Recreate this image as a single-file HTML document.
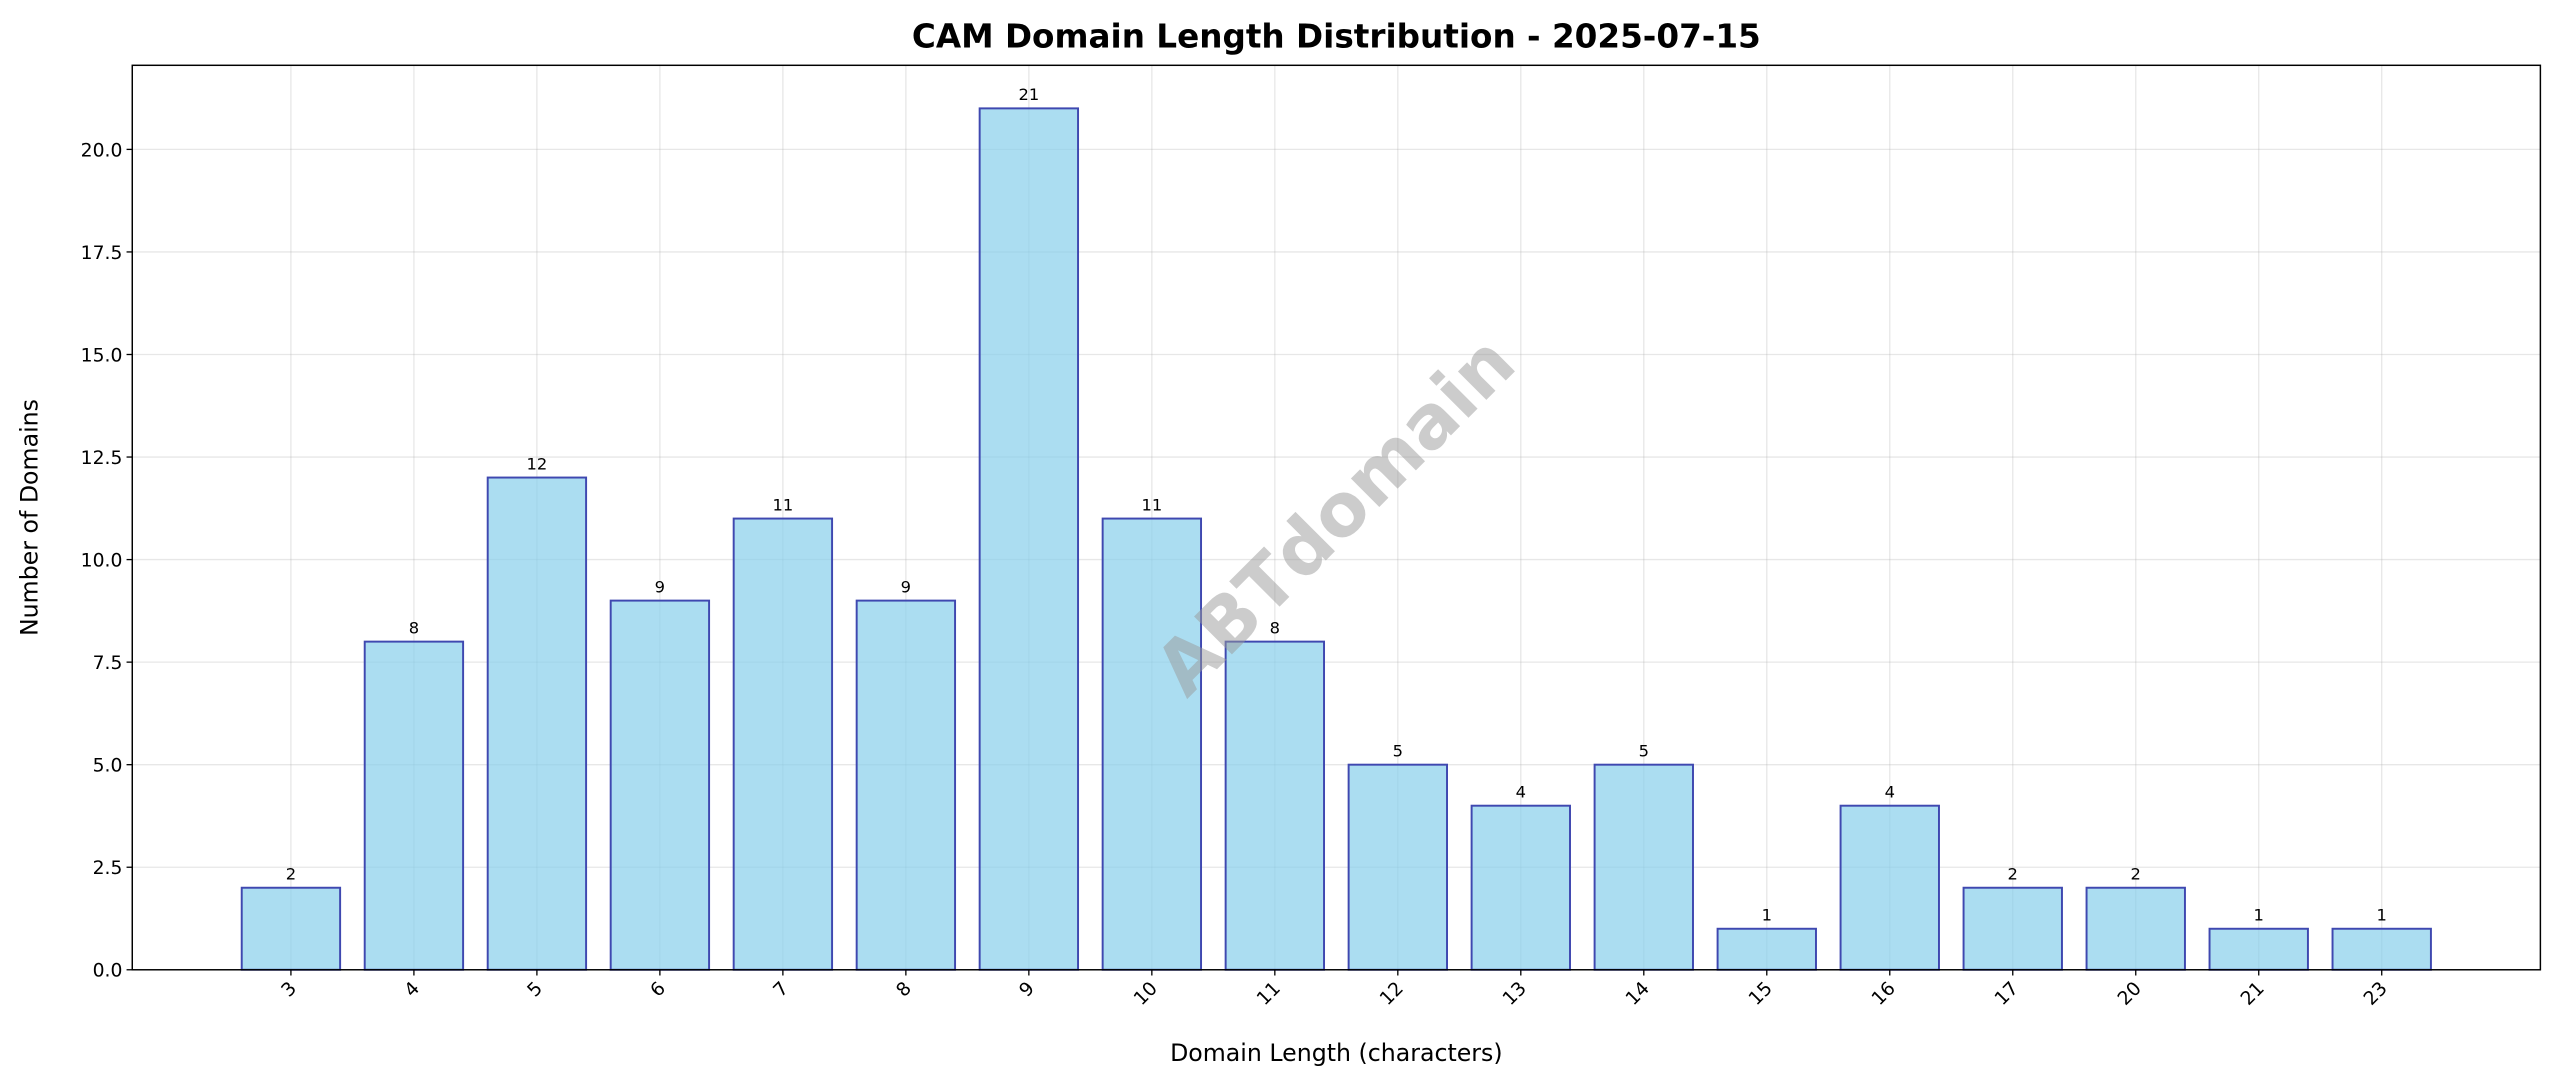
<!DOCTYPE html>
<html><head><meta charset="utf-8"><style>
html,body{margin:0;padding:0;background:#fff;}
svg{display:block;font-family:"DejaVu Sans","Liberation Sans",sans-serif;}
</style></head><body>
<svg id="chart" width="2560" height="1087" viewBox="0 0 1568 665.8" xmlns="http://www.w3.org/2000/svg">
<rect width="1568" height="666" fill="#fff"/>
<g id="grid"></g>
<g id="bars"></g>
<text x="820" y="318" font-size="45" font-weight="bold" fill="#999" fill-opacity="0.5" text-anchor="middle" dominant-baseline="middle" transform="rotate(-45 820 318)">ABTdomain</text>
<g id="axes"></g>
<text x="818.5" y="29" font-size="20" font-weight="bold" text-anchor="middle">CAM Domain Length Distribution - 2025-07-15</text>
<text x="818.5" y="650" font-size="14.5" text-anchor="middle">Domain Length (characters)</text>
<text x="23" y="317" font-size="14.5" text-anchor="middle" transform="rotate(-90 23 317)">Number of Domains</text>
</svg>
<script>
const categories=["3","4","5","6","7","8","9","10","11","12","13","14","15","16","17","20","21","23"];
const counts=[2,8,12,9,11,9,21,11,8,5,4,5,1,4,2,2,1,1];
const yTicks=[0,2.5,5,7.5,10,12.5,15,17.5,20];
const yTickLabels=["0.0","2.5","5.0","7.5","10.0","12.5","15.0","17.5","20.0"];

const NS="http://www.w3.org/2000/svg";
const L=81,R=1556,T=40,B=594;
const n=categories.length;
const xmin=-0.4-0.05*(n-1+0.8),xmax=n-1+0.4+0.05*(n-1+0.8);
const ymax=Math.max(...counts)*1.05;
const xs=v=>L+(v-xmin)/(xmax-xmin)*(R-L);
const ys=v=>B-v/ymax*(B-T);
function mk(tag,attrs,parent){const e=document.createElementNS(NS,tag);for(const k in attrs)e.setAttribute(k,attrs[k]);parent.appendChild(e);return e;}
const grid=document.getElementById('grid'),bars=document.getElementById('bars'),axes=document.getElementById('axes');
yTicks.forEach((t,i)=>{
  const y=ys(t);
  const g=mk('line',{x1:L,x2:R,y1:y,y2:y,stroke:'#b0b0b0','stroke-opacity':0.3,'stroke-width':0.8},grid);
  
  
  const tk=mk('line',{x1:L-3.5,x2:L,y1:y,y2:y,stroke:'#000','stroke-width':0.8},axes);
  
  
  const tl=mk('text',{x:L-6,y:y+4.2,'font-size':11.5,'text-anchor':'end'},axes);
  
  
  tl.textContent=yTickLabels[i];
});
categories.forEach((c,i)=>{
  const x=xs(i);
  const g=mk('line',{x1:x,x2:x,y1:T,y2:B,stroke:'#b0b0b0','stroke-opacity':0.3,'stroke-width':0.8},grid);
  
  
  const x0=xs(i-0.4),x1=xs(i+0.4);
  const b=mk('rect',{x:x0,y:ys(counts[i]),width:x1-x0,height:B-ys(counts[i]),fill:'#87ceeb','fill-opacity':0.7,stroke:'#3f48b0','stroke-width':1.2},bars);
  
  
  const v=mk('text',{x:x,y:ys(counts[i])-5,'font-size':10,'text-anchor':'middle'},bars);
  
  
  v.textContent=counts[i];
  const tk=mk('line',{x1:x,x2:x,y1:B,y2:B+3.5,stroke:'#000','stroke-width':0.8},axes);
  
  
  const tl=mk('text',{x:x+4,y:B+12,'font-size':11.5,'text-anchor':'end',transform:`rotate(-45 ${x+4} ${B+12})`},axes);
  
  
  tl.textContent=c;
});
const fr=mk('rect',{x:L,y:T,width:R-L,height:B-T,fill:'none',stroke:'#000','stroke-width':0.9},axes);


</script>
</body></html>
